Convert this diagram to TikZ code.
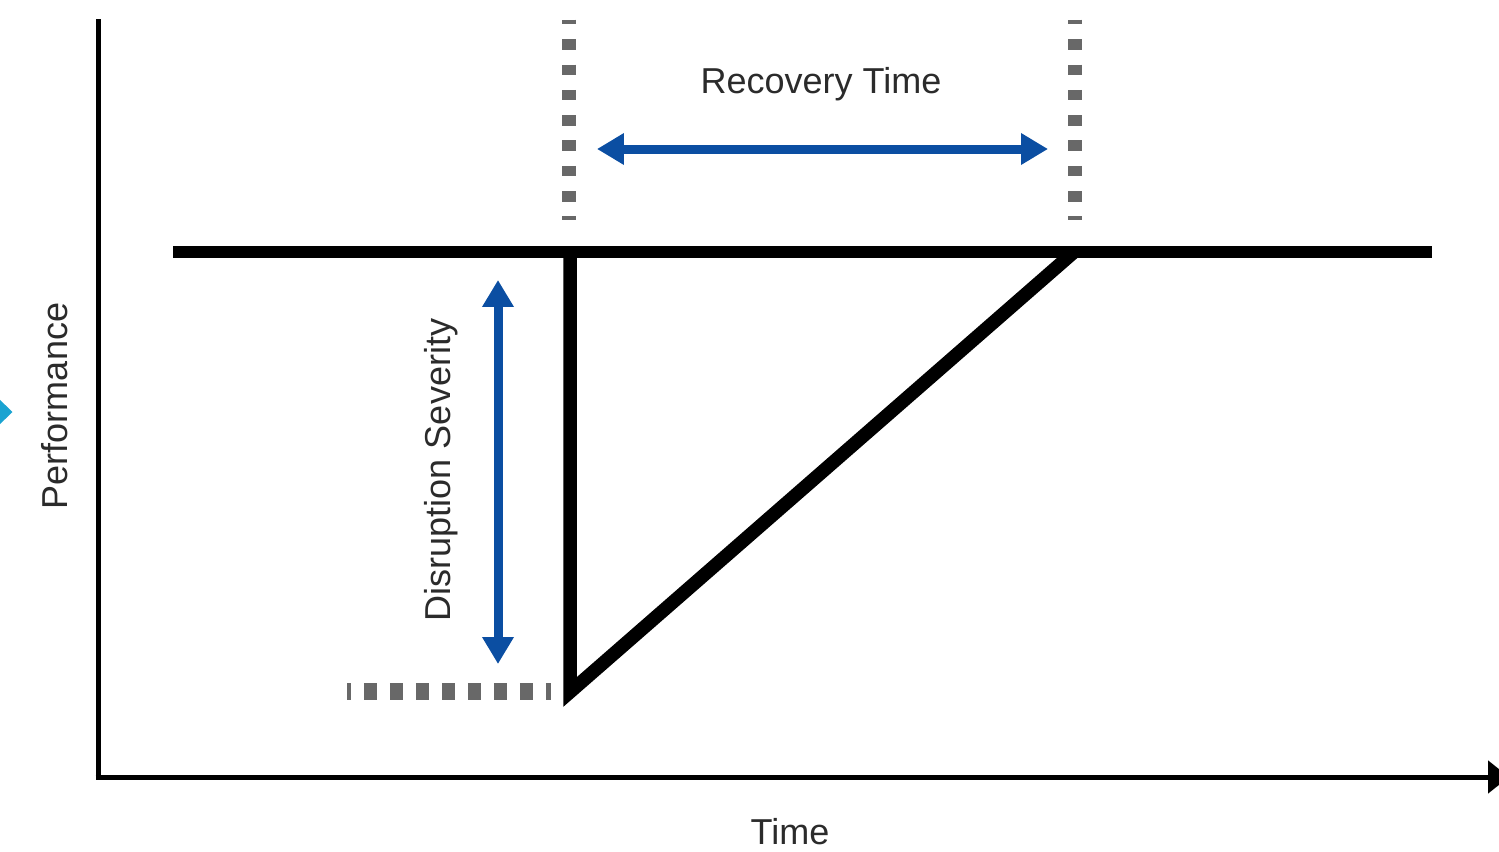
\documentclass[tikz,border=0pt]{standalone}
\usepackage{fontspec}
\setmainfont{Liberation Sans}
\usetikzlibrary{arrows.meta}
\definecolor{arrowblue}{HTML}{0B4EA2}
\definecolor{dashgray}{HTML}{686868}
\definecolor{textgray}{HTML}{2B2B2B}
\definecolor{markcyan}{HTML}{1AA3D1}
\begin{document}
\begin{tikzpicture}[x=0.02cm,y=-0.02cm,
  axisline/.style={line width=0.1cm,black},
  curveline/.style={line width=0.27cm,black,miter limit=10,line join=miter},
  baseline/.style={line width=0.24cm,black},
  vdash/.style={line width=0.28cm,dashgray,dash pattern=on 0.21cm off 0.296cm,dash phase=0.11cm},
  hdash/.style={line width=0.34cm,dashgray,dash pattern=on 0.26cm off 0.26cm,dash phase=0.18cm},
  bluearrow/.style={line width=0.18cm,arrowblue,{Triangle[length=0.54cm,width=0.6cm]}-{Triangle[length=0.54cm,width=0.6cm]}},
  lbl/.style={text=textgray,font=\fontsize{20.5}{24}\selectfont,inner sep=0pt}]
\useasboundingbox (0,0) rectangle (1499,852);
% axes
\coordinate (origin) at (98,777);
\coordinate (ytop) at (98,19);
\coordinate (xend) at (1509,777);
\draw[axisline] (ytop) -- (98,779.5);
\draw[axisline,-{Triangle[length=0.42cm,width=0.64cm]}] (95.5,777) -- (xend);
% baseline performance
\coordinate (bl) at (173,252);
\coordinate (br) at (1432,252);
\draw[baseline] (bl) -- (br);
% disruption curve
\coordinate (drop) at (570,252);
\coordinate (low) at (570,692);
\coordinate (rec) at (1074,252);
\draw[curveline] (drop) -- (low) -- (rec);
% dashed guides
\coordinate (d1t) at (569,19.5);
\coordinate (d1b) at (569,220);
\coordinate (d2t) at (1075,19.5);
\coordinate (d2b) at (1075,220);
\draw[vdash] (d1t) -- (d1b);
\draw[vdash] (d2t) -- (d2b);
\coordinate (hl) at (347,691);
\coordinate (hr) at (551,691);
\draw[hdash] (hl) -- (hr);
% blue arrows
\coordinate (ra) at (597,149);
\coordinate (rb) at (1048,149);
\draw[bluearrow] (ra) -- (rb);
\coordinate (sa) at (498,280);
\coordinate (sb) at (498,664);
\draw[bluearrow] (sa) -- (sb);
% cyan mark at left edge
\fill[markcyan] (-2,398) -- (12.5,412) -- (-2,426) -- cycle;
% labels
\node[lbl] (rt) at (821,84) {Recovery Time};
\node[lbl,rotate=90] (ds) at (441,470) {Disruption Severity};
\node[lbl,rotate=90] (pf) at (55,406) {Performance};
\node[lbl] (tm) at (790,832) {Time};
\end{tikzpicture}
\end{document}
